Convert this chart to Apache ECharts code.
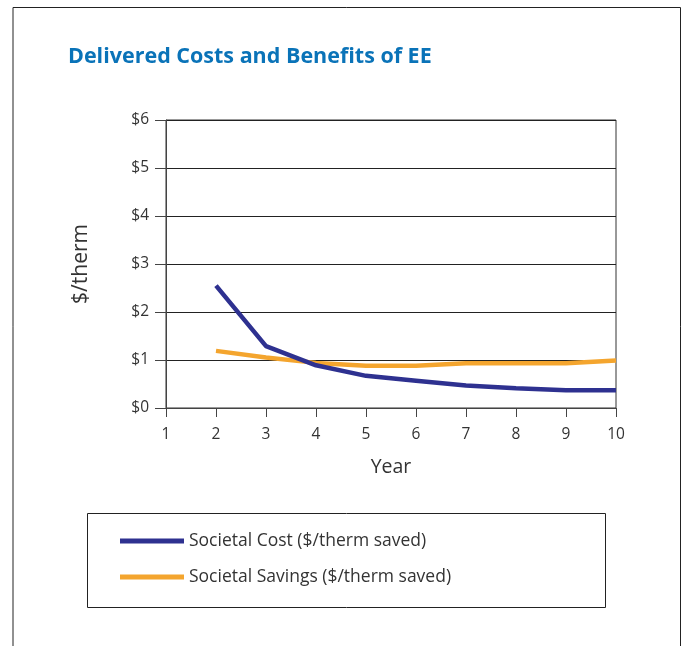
<!DOCTYPE html>
<html>
<head>
<meta charset="utf-8">
<style>
  html, body { margin: 0; padding: 0; background: #fff; }
  #chart { width: 684px; height: 646px; }
</style>
<script src="https://cdn.jsdelivr.net/npm/echarts@6/dist/echarts.min.js"></script>
</head>
<body>
<div id="chart"></div>
<script>
// Years on the horizontal axis
var years = [2, 3, 4, 5, 6, 7, 8, 9, 10];
// Delivered societal cost per therm saved
var societalCost = [2.55, 1.29, 0.89, 0.67, 0.57, 0.47, 0.41, 0.37, 0.37];
// Delivered societal savings per therm saved
var societalSavings = [1.19, 1.05, 0.94, 0.88, 0.88, 0.93, 0.93, 0.93, 0.99];
var seriesNames = ['Societal Cost ($/therm saved)', 'Societal Savings ($/therm saved)'];

var FONT = '"Open Sans", "Noto Sans", sans-serif';

function pairs(xs, ys) {
  return xs.map(function (x, i) { return [x, ys[i]]; });
}

var chart = echarts.init(document.getElementById('chart'), null, { renderer: 'canvas' });

chart.setOption({
  backgroundColor: '#ffffff',
  animation: false,
  textStyle: { fontFamily: FONT },
  title: {
    text: 'Delivered Costs and Benefits of EE',
    left: 63,
    top: 41,
    textStyle: { color: '#0a73b8', fontSize: 21.5, fontWeight: 'bold', fontFamily: FONT }
  },
  grid: {
    left: 166, right: 68, top: 120, bottom: 238,
    show: true, borderColor: '#333', borderWidth: 1
  },
  xAxis: {
    type: 'value',
    min: 1, max: 10, interval: 1,
    name: 'Year',
    nameLocation: 'middle',
    nameGap: 49,
    nameTextStyle: { fontSize: 19.5, color: '#333', fontFamily: FONT },
    axisLine: { show: true, lineStyle: { color: '#444', width: 1 } },
    axisTick: { show: true, inside: false, length: 9, lineStyle: { color: '#444' } },
    axisLabel: { fontSize: 15.5, color: '#333', margin: 19, fontFamily: FONT },
    splitLine: { show: false }
  },
  yAxis: {
    type: 'value',
    min: 0, max: 6, interval: 1,
    name: '$/therm',
    nameLocation: 'middle',
    nameGap: 74,
    nameRotate: 90,
    nameTextStyle: { fontSize: 21, color: '#333', fontFamily: FONT },
    axisLine: { show: true, lineStyle: { color: '#444', width: 1 } },
    axisTick: { show: true, length: 11, lineStyle: { color: '#444' } },
    axisLabel: {
      fontSize: 15.5, color: '#333', margin: 17, fontFamily: FONT,
      formatter: function (v) { return '$' + v; }
    },
    splitLine: { show: true, lineStyle: { color: '#222', width: 1 } }
  },
  legend: {
    orient: 'vertical',
    left: 115,
    top: 527,
    itemGap: 18,
    itemWidth: 64,
    itemHeight: 5,
    icon: 'rect',
    textStyle: { fontSize: 17.5, color: '#333', fontFamily: FONT, padding: [0, 0, 0, 0] },
    data: seriesNames
  },
  graphic: [
    // outer frame (open at the bottom)
    { type: 'polyline', silent: true,
      shape: { points: [[13, 646], [13, 7.5], [680.5, 7.5], [680.5, 646]] },
      style: { stroke: '#222', lineWidth: 1, fill: null } },
    // legend box
    { type: 'rect', silent: true, z: -1,
      shape: { x: 87.5, y: 513.5, width: 518, height: 94 },
      style: { stroke: '#222', lineWidth: 1, fill: '#fff' } }
  ],
  series: [
    {
      name: seriesNames[1],
      type: 'line',
      data: pairs(years, societalSavings),
      symbol: 'none',
      lineStyle: { color: '#f4a52e', width: 4.5 },
      itemStyle: { color: '#f4a52e' },
      z: 2
    },
    {
      name: seriesNames[0],
      type: 'line',
      data: pairs(years, societalCost),
      symbol: 'none',
      lineStyle: { color: '#2e3190', width: 4.5 },
      itemStyle: { color: '#2e3190' },
      z: 3
    }
  ]
});
</script>
</body>
</html>
